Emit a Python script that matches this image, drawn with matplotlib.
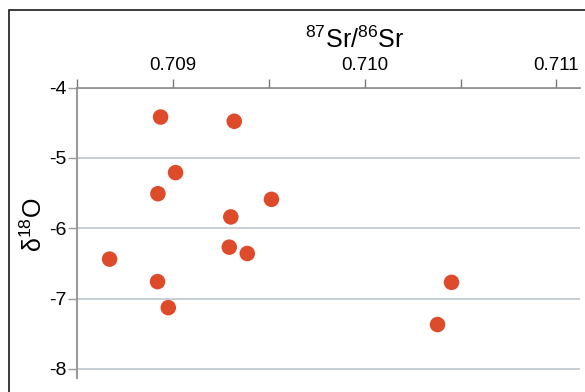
import matplotlib
matplotlib.use("Agg")
import matplotlib.pyplot as plt
from matplotlib.patches import Rectangle

# 87Sr/86Sr vs d18O
sr_ratio = [0.708936, 0.709320, 0.709014, 0.708922, 0.709514, 0.709302, 0.709294,
            0.709388, 0.708670, 0.708920, 0.708976, 0.710453, 0.710380]
d18o = [-4.42, -4.48, -5.21, -5.51, -5.59, -5.84, -6.27,
        -6.36, -6.44, -6.76, -7.13, -6.77, -7.37]

x_major = [0.709, 0.710, 0.711]
x_minor = [0.7085, 0.7095, 0.7105]
y_ticks = [-4, -5, -6, -7, -8]

plt.rcParams['font.family'] = ['Liberation Sans', 'DejaVu Sans']
plt.rcParams['mathtext.fontset'] = 'custom'
plt.rcParams['mathtext.rm'] = 'Liberation Sans'
plt.rcParams['mathtext.it'] = 'Liberation Sans'
plt.rcParams['mathtext.default'] = 'regular'

fig = plt.figure(figsize=(5.85, 3.92), dpi=100)
ax = fig.add_axes([77/585, 1 - 378/392, (580 - 77)/585, (378 - 87.5)/392])

ax.scatter(sr_ratio, d18o, s=125, color='#DD4B2A', edgecolors='none', zorder=3)

ax.set_xlim(0.7085, 0.711123)
ax.set_ylim(-8.13, -4)

ax.xaxis.tick_top()
ax.set_xticks(x_major)
ax.set_xticklabels(['0.709', '0.710', '0.711'])
ax.set_xticks(x_minor, minor=True)
ax.set_yticks(y_ticks)
ax.set_yticklabels([str(v) for v in y_ticks])

ax.tick_params(axis='x', which='both', direction='out', length=6.5, width=1,
               color='#7a7a7a', labelsize=13.5, pad=3)
ax.tick_params(axis='y', direction='out', length=6.5, width=1,
               color='#9a9a9a', labelsize=14, pad=1)

ax.grid(axis='y', color='#c3cad1', linewidth=1.3)
ax.set_axisbelow(True)

for side in ['right', 'bottom']:
    ax.spines[side].set_visible(False)
ax.spines['top'].set_color('#8a8a8a')
ax.spines['top'].set_linewidth(1.2)
ax.spines['left'].set_color('#9a9a9a')
ax.spines['left'].set_linewidth(1.5)

fig.text(355/585, 1 - 40/392, r'$^{87}$Sr/$^{86}$Sr', fontsize=18,
         ha='center', va='center')
fig.text(34/585, 1 - 225/392, 'δ$^{18}$O', fontsize=18,
         ha='center', va='center', rotation=90)

# outer frame
fig.patches.append(Rectangle((9/585, -0.1), 1.2, 1.1 - 10/392,
                             transform=fig.transFigure, fill=False,
                             edgecolor='#1a1a1a', linewidth=1.2))

fig.savefig('out.png', dpi=100)
